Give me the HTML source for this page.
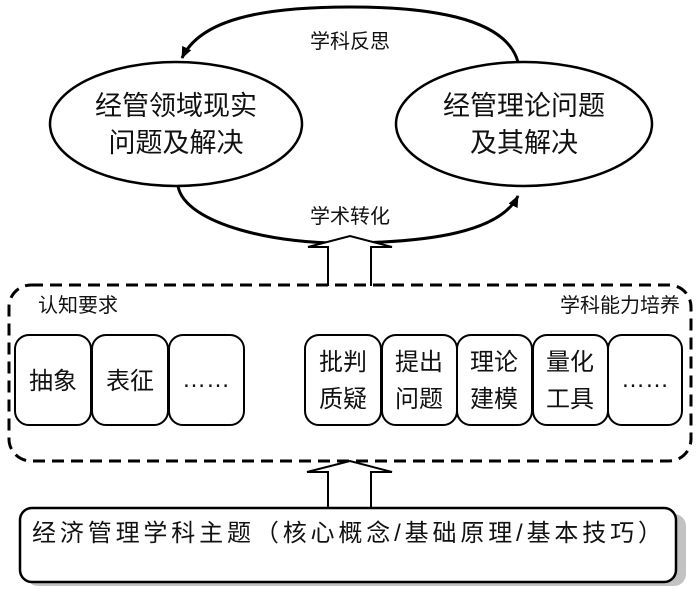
<!DOCTYPE html>
<html><head><meta charset="utf-8"><style>
body{margin:0;background:#fff}
svg text{font-family:"Liberation Sans","Noto Sans CJK SC",sans-serif;fill:#111}
</style></head><body>
<svg width="700" height="591" viewBox="0 0 700 591" xmlns="http://www.w3.org/2000/svg">
<defs>
<marker id="ah" markerWidth="14" markerHeight="12" refX="11" refY="5" orient="auto" markerUnits="userSpaceOnUse">
<path d="M0,0 L12,5 L0,10 Z" fill="#000"/></marker>
</defs>
<path d="M518,62 C505,15 420,7 350,7 C260,7 200,20 182,58" fill="none" stroke="#000" stroke-width="3" marker-end="url(#ah)"/>
<path d="M178,186 C185,225 280,245 350,243 C430,242 500,232 518,196" fill="none" stroke="#000" stroke-width="3" marker-end="url(#ah)"/>
<ellipse cx="176" cy="124" rx="126" ry="62" fill="#fff" stroke="#000" stroke-width="2.5"/>
<ellipse cx="524" cy="124" rx="128" ry="62" fill="#fff" stroke="#000" stroke-width="2.5"/>
<text x="350" y="48" font-size="20" text-anchor="middle">学科反思</text>
<text x="350" y="223" font-size="20" text-anchor="middle">学术转化</text>
<text x="176" y="115" font-size="27" text-anchor="middle">经管领域现实</text>
<text x="176" y="152" font-size="27" text-anchor="middle">问题及解决</text>
<text x="524" y="115" font-size="27" text-anchor="middle">经管理论问题</text>
<text x="524" y="152" font-size="27" text-anchor="middle">及其解决</text>
<path d="M328,286 L328,247 L308,247 L350,236 L392,247 L371,247 L371,286" fill="#fff" stroke="#000" stroke-width="2"/>
<rect x="9" y="285" width="682" height="176" rx="22" fill="none" stroke="#000" stroke-width="3" stroke-dasharray="12,7"/>
<text x="38" y="312" font-size="20">认知要求</text>
<text x="680" y="312" font-size="20" text-anchor="end">学科能力培养</text>
<g fill="#fff" stroke="#000" stroke-width="2">
<rect x="15" y="335" width="76" height="90" rx="14"/>
<rect x="92" y="335" width="76" height="90" rx="14"/>
<rect x="169" y="335" width="75" height="90" rx="14"/>
<rect x="305" y="335" width="76" height="90" rx="14"/>
<rect x="382" y="335" width="75" height="90" rx="14"/>
<rect x="457" y="335" width="75" height="90" rx="14"/>
<rect x="533" y="335" width="75" height="90" rx="14"/>
<rect x="608" y="335" width="74" height="90" rx="14"/>
</g>
<g font-size="24" text-anchor="middle">
<text x="53" y="389">抽象</text>
<text x="130" y="389">表征</text>
<text x="206" y="387">……</text>
<text x="343" y="370">批判</text><text x="343" y="407">质疑</text>
<text x="419" y="370">提出</text><text x="419" y="407">问题</text>
<text x="494" y="370">理论</text><text x="494" y="407">建模</text>
<text x="570" y="370">量化</text><text x="570" y="407">工具</text>
<text x="645" y="387">……</text>
</g>
<path d="M328,508 L328,472 L307,472 L350,461 L392,472 L371,472 L371,508" fill="#fff" stroke="#000" stroke-width="2"/>
<rect x="26" y="514" width="660" height="72" rx="12" fill="#999" opacity="0.6"/>
<rect x="20" y="508" width="656" height="74" rx="12" fill="#fff" stroke="#000" stroke-width="2.5"/>
<text x="32" y="541" font-size="24" textLength="630">经济管理学科主题（核心概念/基础原理/基本技巧）</text>
</svg>
</body></html>
